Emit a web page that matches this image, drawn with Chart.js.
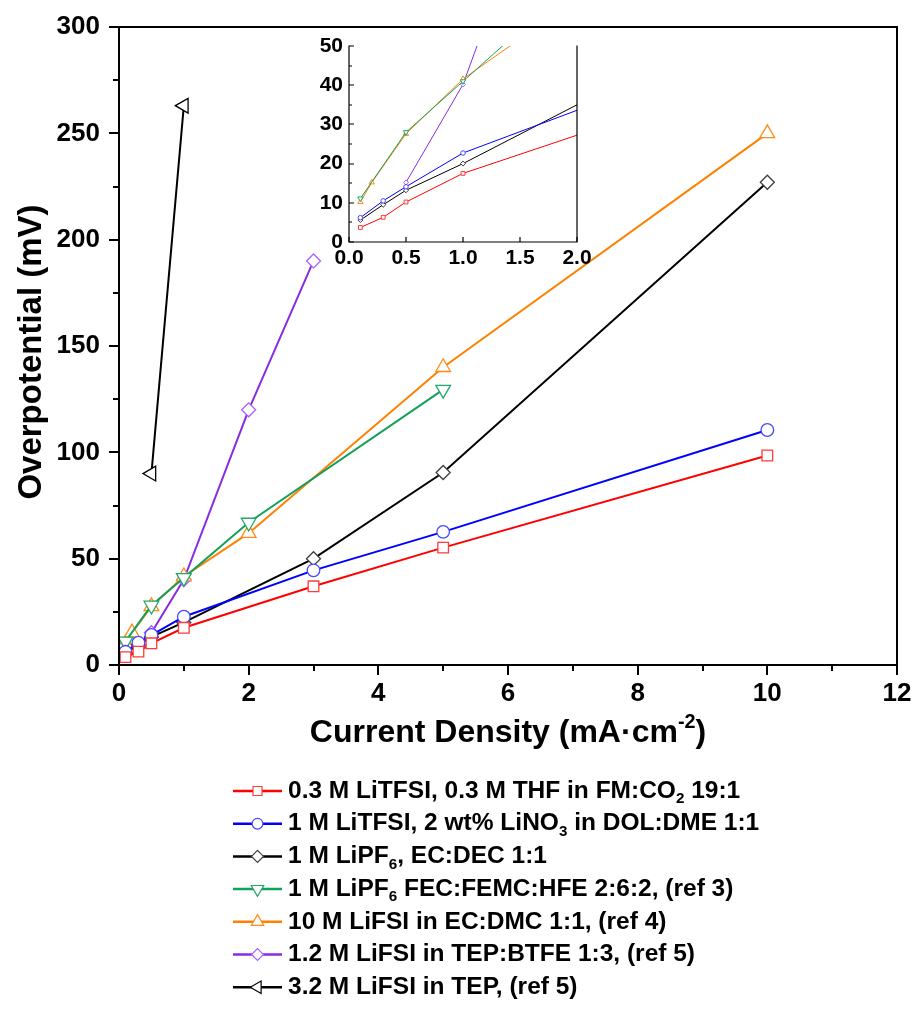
<!DOCTYPE html>
<html>
<head>
<meta charset="utf-8">
<script src="https://cdn.jsdelivr.net/npm/chart.js@4.4.1/dist/chart.umd.min.js"></script>
<style>
  body { margin: 0; background: #fff; }
  #wrap { position: relative; width: 917px; height: 1026px; }
  #main { position: absolute; left: 0; top: 0; }
  #inset { position: absolute; left: 300px; top: 25px; }
</style>
</head>
<body>
<div id="wrap">
  <canvas id="main" width="917" height="1026"></canvas>
  <canvas id="inset" width="310" height="250"></canvas>
</div>
<script>
// current density (mA cm-2) and overpotential (mV)
const xA = [0.1, 0.3, 0.5, 1, 3, 5, 10];
const yLiTFSI_FM = [3.7, 6.3, 10.2, 17.5, 37, 55.2, 98.5];
const yLiTFSI_DOL = [6.2, 10.5, 14.1, 22.7, 44.5, 62.6, 110.5];
const yLiPF6_EC = [5.6, 9.5, 13.2, 20, 50, 90.5, 227];

const xFEC = [0.1, 0.5, 1, 2, 5];
const yFEC = [11.1, 28, 41, 67, 129.5];

const xLiFSI_EC = [0.1, 0.2, 0.5, 1, 2, 5, 10];
const yLiFSI_EC = [10.2, 15.2, 27.6, 41.6, 62, 140, 250];

const xBTFE = [0.5, 1, 2, 3];
const yBTFE = [15.2, 40.2, 120, 190];

const xTEP = [0.5, 1];
const yTEP = [90, 263];

const labels = [
  '0.3 M LiTFSI, 0.3 M THF in FM:CO_{2} 19:1',
  '1 M LiTFSI, 2 wt% LiNO_{3} in DOL:DME 1:1',
  '1 M LiPF_{6}, EC:DEC 1:1',
  '1 M LiPF_{6} FEC:FEMC:HFE 2:6:2, (ref 3)',
  '10 M LiFSI in EC:DMC 1:1, (ref 4)',
  '1.2 M LiFSI in TEP:BTFE 1:3, (ref 5)',
  '3.2 M LiFSI in TEP, (ref 5)'
];

const FONT = '"Liberation Sans", Arial, sans-serif';
Chart.defaults.color = '#000';

const pts = (xs, ys) => xs.map((x, i) => ({ x: x, y: ys[i] }));

// one function builds datasets for both the big chart and the inset
function makeSets(r, lw, bw) {
  const s = (label, xs, ys, line, mark, style, rot, rad) => ({
    label: label,
    data: pts(xs, ys),
    showLine: true,
    borderColor: line,
    borderWidth: lw,
    pointBorderColor: mark,
    pointBackgroundColor: '#fff',
    pointBorderWidth: bw,
    pointStyle: style,
    rotation: rot,
    pointRadius: rad * r,
    tension: 0,
    clip: 0
  });
  return [
    s(labels[0], xA, yLiTFSI_FM, '#ff0000', '#ff3b3b', 'rect', 0, 7.5),
    s(labels[1], xA, yLiTFSI_DOL, '#0000ff', '#4848ff', 'circle', 0, 6.3),
    s(labels[2], xA, yLiPF6_EC, '#000000', '#404040', 'rectRot', 0, 7),
    s(labels[3], xFEC, yFEC, '#12a05a', '#20a868', 'triangle', 180, 8.5),
    s(labels[4], xLiFSI_EC, yLiFSI_EC, '#ff8000', '#ff8c1a', 'triangle', 0, 8.5),
    s(labels[5], xBTFE, yBTFE, '#8a2be2', '#a860ff', 'rectRot', 0, 7),
    s(labels[6], xTEP, yTEP, '#000000', '#000000', 'triangle', 270, 8.5)
  ];
}

// box + major/minor tick marks
const frameTicks = {
  id: 'frameTicks',
  afterDraw(chart, args, o) {
    const { ctx, chartArea: a, scales } = chart;
    const d = o.inward ? -1 : 1;
    ctx.save();
    ctx.strokeStyle = '#000';
    ctx.lineWidth = o.lineWidth;
    ctx.lineCap = 'square';
    ctx.beginPath();
    ctx.moveTo(a.left, a.top);
    ctx.lineTo(a.left, a.bottom);
    ctx.lineTo(a.right, a.bottom);
    ctx.lineTo(a.right, a.top);
    if (o.top) ctx.lineTo(a.left, a.top);
    ctx.stroke();
    ctx.lineCap = 'butt';
    ctx.beginPath();
    scales.x.ticks.forEach(t => {
      const px = Math.round(scales.x.getPixelForValue(t.value));
      const len = o.majorX(t.value) ? o.major : o.minor;
      ctx.moveTo(px, a.bottom);
      ctx.lineTo(px, a.bottom + d * len);
    });
    scales.y.ticks.forEach(t => {
      const py = Math.round(scales.y.getPixelForValue(t.value));
      const len = o.majorY(t.value) ? o.major : o.minor;
      ctx.moveTo(a.left, py);
      ctx.lineTo(a.left - d * len, py);
    });
    ctx.stroke();
    ctx.restore();
  }
};

// text with _{sub} and ^{sup} parts
function drawRich(ctx, text, x, y, size) {
  const parts = text.split(/(_\{[^}]*\}|\^\{[^}]*\})/);
  parts.forEach(p => {
    if (!p) return;
    let dy = 0, sz = size, t = p;
    if (p[0] === '_' && p[1] === '{') { t = p.slice(2, -1); sz = size * 0.62; dy = size * 0.33; }
    if (p[0] === '^' && p[1] === '{') { t = p.slice(2, -1); sz = size * 0.62; dy = -size * 0.33; }
    ctx.font = 'bold ' + sz + 'px ' + FONT;
    ctx.fillText(t, x, y + dy);
    x += ctx.measureText(t).width;
  });
  return x;
}
function richWidth(ctx, text, size) {
  ctx.save();
  ctx.globalAlpha = 0;
  const w = drawRich(ctx, text, 0, 0, size);
  ctx.restore();
  return w;
}

const axisTitles = {
  id: 'axisTitles',
  afterDraw(chart) {
    const { ctx, chartArea: a } = chart;
    ctx.save();
    ctx.fillStyle = '#000';
    ctx.textBaseline = 'middle';
    ctx.textAlign = 'left';
    const xt = 'Current Density (mA\u00b7cm^{-2})';
    const w = richWidth(ctx, xt, 32);
    drawRich(ctx, xt, (a.left + a.right) / 2 - w / 2, a.bottom + 68, 32);
    ctx.translate(32, (a.top + a.bottom) / 2 + 6);
    ctx.rotate(-Math.PI / 2);
    ctx.textAlign = 'center';
    ctx.font = 'bold 33px ' + FONT;
    ctx.fillText('Overpotential (mV)', 0, 0);
    ctx.restore();
  }
};

const sketchLegend = {
  id: 'sketchLegend',
  afterDraw(chart, args, o) {
    const ctx = chart.ctx;
    ctx.save();
    chart.data.datasets.forEach((ds, i) => {
      const y = o.top + i * o.gap;
      ctx.strokeStyle = ds.borderColor;
      ctx.lineWidth = 2.5;
      ctx.beginPath();
      ctx.moveTo(o.left, y);
      ctx.lineTo(o.left + o.len, y);
      ctx.stroke();
      ctx.strokeStyle = ds.pointBorderColor;
      ctx.fillStyle = '#fff';
      ctx.lineWidth = 1.2;
      Chart.helpers.drawPoint(ctx, {
        pointStyle: ds.pointStyle, rotation: ds.rotation,
        radius: ds.pointRadius * 0.85, borderWidth: 1.2
      }, o.left + o.len / 2, y);
      ctx.fillStyle = '#000';
      ctx.textBaseline = 'middle';
      ctx.textAlign = 'left';
      drawRich(ctx, ds.label, o.left + o.len + 6, y, o.size);
    });
    ctx.restore();
  }
};

const tickFont = { family: FONT, size: 26, weight: 'bold' };
const noGrid = len => ({
  display: true, drawOnChartArea: false, drawTicks: true,
  tickLength: len, color: 'rgba(0,0,0,0)'
});

new Chart(document.getElementById('main'), {
  type: 'scatter',
  data: { datasets: makeSets(1, 2, 1.3) },
  plugins: [frameTicks, axisTitles, sketchLegend],
  options: {
    responsive: false,
    animation: false,
    layout: { padding: { top: 27, right: 20, left: 0, bottom: 0 } },
    plugins: {
      legend: { display: false },
      tooltip: { enabled: false },
      frameTicks: {
        inward: false, lineWidth: 2, major: 10, minor: 6, top: true,
        majorX: v => v % 2 === 0, majorY: v => v % 50 === 0
      },
      sketchLegend: { left: 233, top: 791, gap: 32.7, len: 49, size: 24.5 }
    },
    scales: {
      x: {
        type: 'linear', min: 0, max: 12,
        afterFit: s => { s.height = 361; },
        grid: noGrid(13), border: { display: false },
        ticks: {
          stepSize: 1, autoSkip: false, maxRotation: 0, padding: 0, font: tickFont,
          callback: v => (v % 2 === 0 ? v : '')
        }
      },
      y: {
        type: 'linear', min: 0, max: 300,
        afterFit: s => { s.width = 119; },
        grid: noGrid(19), border: { display: false },
        ticks: {
          stepSize: 25, autoSkip: false, padding: 0, font: tickFont,
          callback: v => (v % 50 === 0 ? v : '')
        }
      }
    }
  }
});

const insetFont = { family: FONT, size: 21, weight: 'bold' };

new Chart(document.getElementById('inset'), {
  type: 'scatter',
  data: { datasets: makeSets(0.36, 1, 1) },
  plugins: [frameTicks],
  options: {
    responsive: false,
    animation: false,
    layout: { padding: { top: 21, right: 33, left: 0, bottom: 0 } },
    plugins: {
      legend: { display: false },
      tooltip: { enabled: false },
      frameTicks: {
        inward: true, lineWidth: 1.2, major: 5, minor: 3, top: false,
        majorX: v => true, majorY: v => v % 10 === 0
      }
    },
    scales: {
      x: {
        type: 'linear', min: 0, max: 2,
        afterFit: s => { s.height = 33; },
        grid: noGrid(4), border: { display: false },
        ticks: {
          stepSize: 0.5, autoSkip: false, maxRotation: 0, padding: 0, font: insetFont,
          callback: v => v.toFixed(1)
        }
      },
      y: {
        type: 'linear', min: 0, max: 50,
        afterFit: s => { s.width = 49; },
        grid: noGrid(6), border: { display: false },
        ticks: {
          stepSize: 5, autoSkip: false, padding: 0, font: insetFont,
          callback: v => (v % 10 === 0 ? v : '')
        }
      }
    }
  }
});
</script>
</body>
</html>
